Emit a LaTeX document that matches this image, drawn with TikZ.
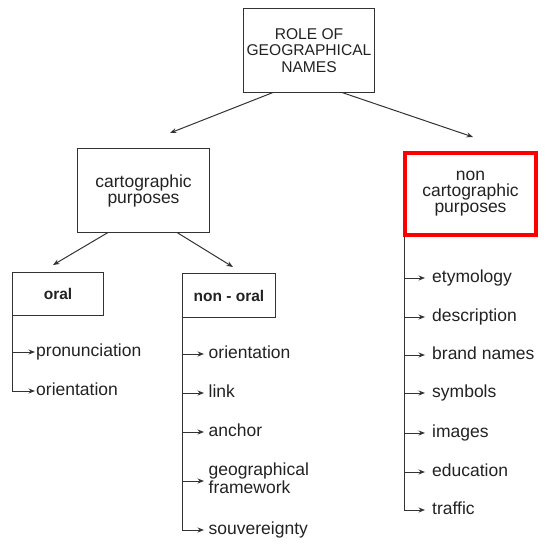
\documentclass[tikz,border=0pt]{standalone}
\usepackage{fontspec}
\setmainfont{Liberation Sans}
\usetikzlibrary{arrows.meta,calc}
\definecolor{linegray}{HTML}{333333}
\definecolor{textgray}{HTML}{222222}
\definecolor{boxred}{HTML}{FF0000}
\begin{document}
\begin{tikzpicture}[x=1pt,y=-1pt,
  ln/.style={draw=linegray,line width=1pt},
  arr/.style={ln,-{Stealth[length=6.5pt,width=5pt]}},
  box/.style={draw=linegray,line width=1pt,inner sep=0pt,outer sep=0pt,align=center,text=textgray,font=\fontsize{17.5}{16}\selectfont},
  rootbox/.style={box,font=\fontsize{15.6}{16.5}\selectfont},
  boldbox/.style={box,font=\fontsize{15.5}{16}\selectfont\bfseries},
  redbox/.style={draw=boxred,line width=4pt,inner sep=0pt,align=center,text=textgray,font=\fontsize{17.5}{16}\selectfont},
  item/.style={anchor=west,inner ysep=0pt,text=textgray,font=\fontsize{17.5}{18}\selectfont,text height=9pt,text depth=0pt},
  itemtwo/.style={anchor=west,inner ysep=0pt,text=textgray,font=\fontsize{17.5}{18}\selectfont,align=left}
]
\useasboundingbox (0,0) rectangle (550,554);

% boxes
\node[rootbox,minimum width=131pt,minimum height=84pt] (root) at (309,50.5) {ROLE OF\\GEOGRAPHICAL\\NAMES};
\node[box,minimum width=132pt,minimum height=84pt] (carto) at (143.5,190.5) {cartographic\\purposes};
\node[redbox,minimum width=131pt,minimum height=82pt] (nc) at (470.5,194) {non\\cartographic\\purposes};
\node[boldbox,minimum width=91pt,minimum height=43pt] (oral) at (58,294) {oral};
\node[boldbox,minimum width=93pt,minimum height=44pt] (nonoral) at (229,295.5) {non - oral};

% free arrow ends
\coordinate (tc) at (170,133);
\coordinate (tn) at (473,137);
\coordinate (to) at (53,265);
\coordinate (tno) at (233,267);

\draw[arr] ([xshift=-36pt]root.south) -- (tc);
\draw[arr] ([xshift=33pt]root.south) -- (tn);
\draw[arr] ([xshift=-35.5pt]carto.south) -- (to);
\draw[arr] ([xshift=33.5pt]carto.south) -- (tno);

% oral items
\node[item,inner xsep=1pt] (o1) at (35,352) {pronunciation};
\node[item,inner xsep=1pt] (o2) at (35,391) {orientation};
\foreach \n in {o1,o2} \draw[arr] (oral.south west) |- (\n.west);

% non-oral items
\node[item,inner xsep=4.5pt] (n1) at (204,354) {orientation};
\node[item,inner xsep=4.5pt] (n2) at (204,393) {link};
\node[item,inner xsep=4.5pt] (n3) at (204,432) {anchor};
\node[itemtwo,inner xsep=4.5pt] (n4) at (204,478.2) {geographical\\framework};
\node[item,inner xsep=4.5pt] (n5) at (204,530) {souvereignty};
\foreach \n in {n1,n2,n3,n5} \draw[arr] (nonoral.south west) |- (\n.west);
\draw[arr] (nonoral.south west) |- ([yshift=-2.8pt]n4.west);

% non cartographic items
\node[item,inner xsep=7pt] (r1) at (425,278) {etymology};
\node[item,inner xsep=7pt] (r2) at (425,317) {description};
\node[item,inner xsep=7pt] (r3) at (425,355) {brand names};
\node[item,inner xsep=7pt] (r4) at (425,393) {symbols};
\node[item,inner xsep=7pt] (r5) at (425,433) {images};
\node[item,inner xsep=7pt] (r6) at (425,472) {education};
\node[item,inner xsep=7pt] (r7) at (425,510) {traffic};
\foreach \n in {r1,r2,r3,r4,r5,r6,r7} \draw[arr] ([xshift=1pt]nc.south west) |- (\n.west);
\end{tikzpicture}
\end{document}
